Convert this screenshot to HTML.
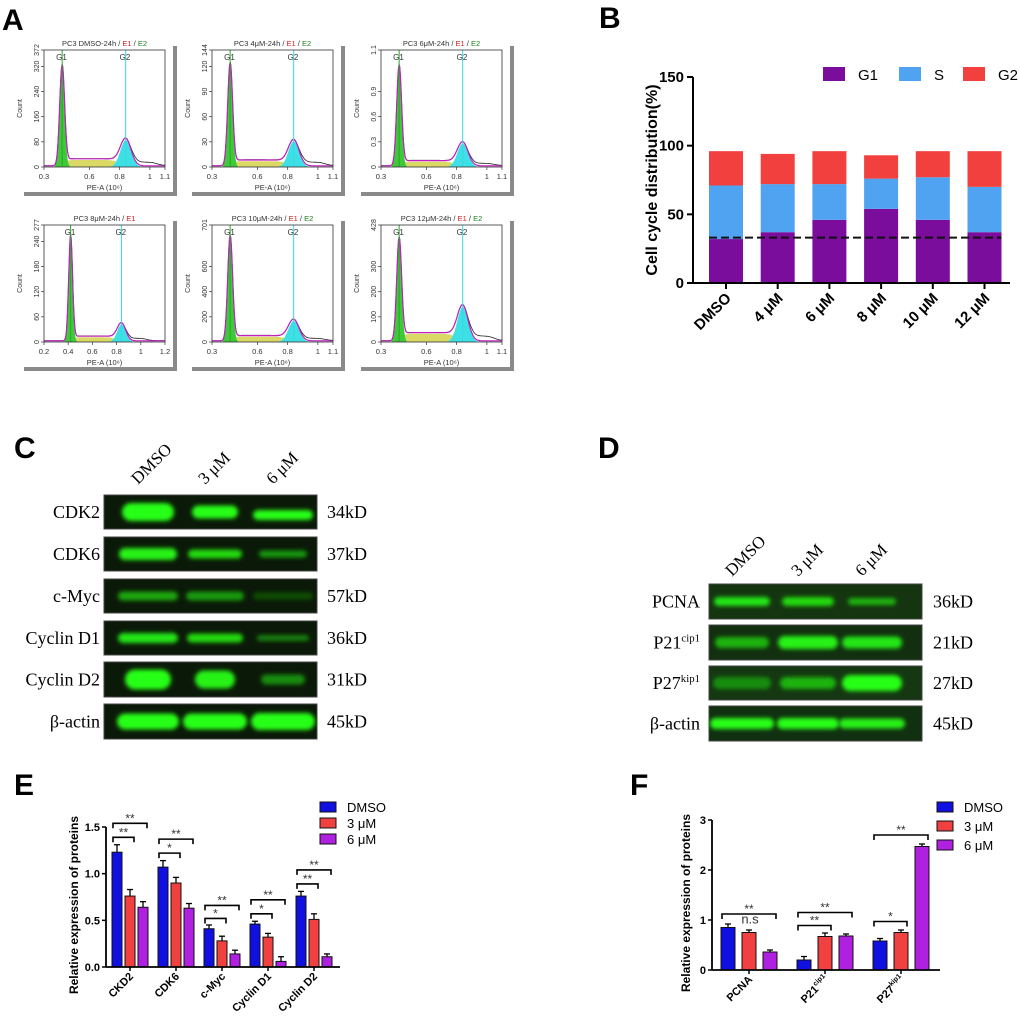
<!DOCTYPE html>
<html><head><meta charset="utf-8">
<style>
html,body{margin:0;padding:0;background:#fff;}
svg{display:block;font-family:"Liberation Sans",sans-serif;}
.serif{font-family:"Liberation Serif",serif;}
</style></head>
<body>
<svg id="fig" width="1020" height="1017" viewBox="0 0 1020 1017" xmlns="http://www.w3.org/2000/svg">
<defs>
<filter id="blur" x="-20%" y="-50%" width="140%" height="200%"><feGaussianBlur stdDeviation="2.2"/></filter>
</defs>
<text x="2" y="30" font-size="30" font-weight="bold">A</text>
<text x="599" y="28" font-size="30" font-weight="bold">B</text>
<text x="14" y="458" font-size="30" font-weight="bold">C</text>
<text x="598" y="458" font-size="30" font-weight="bold">D</text>
<text x="14" y="795" font-size="30" font-weight="bold">E</text>
<text x="630" y="795" font-size="30" font-weight="bold">F</text>
<g id="gA"></g>
<g id="gB"></g>
<g id="gC"></g>
<g id="gD"></g>
<g id="gE"></g>
<g id="gF"></g>
</svg>
<script>
const NS="http://www.w3.org/2000/svg";
function mk(p,tag,a,txt){const e=document.createElementNS(NS,tag);for(const k in a)e.setAttribute(k,a[k]);if(txt!==undefined)e.textContent=txt;p.appendChild(e);return e;}

// ---------- Panel A data ----------
const histTitles=["PC3 DMSO-24h","PC3 4\u03bcM-24h","PC3 6\u03bcM-24h","PC3 8\u03bcM-24h","PC3 10\u03bcM-24h","PC3 12\u03bcM-24h"];
const histYMax=["372","144","1.1","277","701","428"];
const histYTicks=[["0","80","160","240","320"],["0","30","60","90","120"],["0","0.3","0.6","0.9"],["0","60","120","180","240"],["0","200","400","600"],["0","100","200","300"]];
const histG1=[0.86,0.88,0.86,0.9,0.9,0.88];
const histG2=[0.23,0.22,0.2,0.15,0.18,0.3];
const histS=[0.06,0.05,0.045,0.04,0.045,0.07];
const histTail=[0.03,0.03,0.02,0.02,0.02,0.04];
const histXTicks=[["0.3","0.6","0.8","1","1.1"],["0.3","0.6","0.8","1","1.1"],["0.3","0.6","0.8","1","1.1"],["0.2","0.4","0.6","0.8","1","1.2"],["0.3","0.6","0.8","1","1.1"],["0.3","0.6","0.8","1","1.1"]];
(function(){
 const g=document.getElementById('gA');
 const lefts=[44,212,381], tops=[50,225], W=121, H=117;
 for(let i=0;i<6;i++){
  const L=lefts[i%3], T=tops[Math.floor(i/3)], B=T+H, R=L+W;
  const pg=mk(g,'g',{});
  
  
  mk(pg,'rect',{x:R+8,y:T-4,width:4,height:B-T+31,fill:'#8a8a8a'});
  mk(pg,'rect',{x:L-20,y:B+25,width:W+32,height:4,fill:'#8a8a8a'});
  const lo=(i===3)?0.2:0.3, hi=(i===3)?1.2:1.1;
  const sx=v=>L+(v-lo)/(hi-lo)*W;
  const sy=f=>B-f*H;
  const g1=histG1[i],g2=histG2[i],s=histS[i],tl=histTail[i];
  const G1=x=>g1*Math.exp(-Math.pow((x-0.42)/0.016,2)/2);
  const G2=x=>g2*Math.exp(-Math.pow((x-0.84)/0.035,2)/2);
  const S=x=>s*(1/(1+Math.exp(-(x-0.44)/0.01)))*(1/(1+Math.exp((x-0.8)/0.02)));
  const Tl=x=>tl*(1/(1+Math.exp(-(x-0.88)/0.01)))*(1/(1+Math.exp((x-1.05)/0.02)));
  let pG1='',pS='',pG2='',pT='',pB='';
  for(let x=lo;x<=hi+1e-9;x+=0.004){
   const X=sx(x).toFixed(1);
   pG1+=(pG1?'L':'M')+X+','+sy(G1(x)).toFixed(1);
   pS+=(pS?'L':'M')+X+','+sy(S(x)).toFixed(1);
   pG2+=(pG2?'L':'M')+X+','+sy(G2(x)).toFixed(1);
   pT+=(pT?'L':'M')+X+','+sy(G1(x)+G2(x)+S(x)+0.01).toFixed(1);
   pB+=(pB?'L':'M')+X+','+sy(G1(x)+G2(x)+S(x)+Tl(x)+0.012).toFixed(1);
  }
  const close='L'+sx(hi)+','+B+'L'+sx(lo)+','+B+'Z';
  mk(pg,'path',{d:pS+close,fill:'#d4d24a',opacity:0.85});
  mk(pg,'path',{d:pG2+close,fill:'#3de0e4'});
  mk(pg,'path',{d:pG1+close,fill:'#3ec83a'});
  mk(pg,'path',{d:pB,fill:'none',stroke:'#222','stroke-width':0.8});
  mk(pg,'path',{d:pT,fill:'none',stroke:'#c020c0','stroke-width':1.2});
  mk(pg,'line',{x1:sx(0.42),y1:T,x2:sx(0.42),y2:B,stroke:'#2aa82a','stroke-width':1});
  mk(pg,'line',{x1:sx(0.84),y1:T,x2:sx(0.84),y2:B,stroke:'#38d8e0','stroke-width':1});
  mk(pg,'text',{x:sx(0.42)-6,y:T+10,'font-size':8,fill:'#333'},'G1');
  mk(pg,'text',{x:sx(0.84)-6,y:T+10,'font-size':8,fill:'#333'},'G2');
  mk(pg,'rect',{x:L,y:T,width:W,height:H,fill:'none',stroke:'#333','stroke-width':0.8});
  const t=mk(pg,'text',{x:L+W/2,y:T-4,'font-size':7.5,'text-anchor':'middle',fill:'#333'});
  mk(t,'tspan',{},histTitles[i]+' / ');mk(t,'tspan',{fill:'#d02020'},'E1');
  if(i!==3){mk(t,'tspan',{},' / ');mk(t,'tspan',{fill:'#208020'},'E2');}
  const yt=histYTicks[i];
  const yl=[...yt,histYMax[i]];
  yl.forEach((lab,k)=>{
   const y=(k===yl.length-1)?T:B-k*(H*0.215);
   mk(pg,'line',{x1:L-3,y1:y,x2:L,y2:y,stroke:'#333','stroke-width':0.7});
   mk(pg,'text',{x:L-5,y:y,'font-size':7,'text-anchor':'middle',transform:`rotate(-90 ${L-5} ${y})`,fill:'#333'},lab);
  });
  mk(pg,'text',{x:L-22,y:(T+B)/2,'font-size':7,'text-anchor':'middle',transform:`rotate(-90 ${L-22} ${(T+B)/2})`,fill:'#333'},'Count');
  histXTicks[i].forEach(lab=>{
   const v=parseFloat(lab);const x=sx(v);
   mk(pg,'line',{x1:x,y1:B,x2:x,y2:B+3,stroke:'#333','stroke-width':0.7});
   mk(pg,'text',{x:x,y:B+12,'font-size':7.5,'text-anchor':'middle',fill:'#333'},lab);
  });
  mk(pg,'text',{x:L+W/2,y:B+23,'font-size':7.5,'text-anchor':'middle',fill:'#333'},'PE-A (10\u2076)');
 }
})();

// ---------- Panel B data ----------
const bCats=["DMSO","4 \u03bcM","6 \u03bcM","8 \u03bcM","10 \u03bcM","12 \u03bcM"];
const bG1=[32,37,46,54,46,37];
const bS=[39,35,26,22,31,33];
const bG2=[25,22,24,17,19,26];
const bTicks=[0,50,100,150];
const bRef=33;
(function(){
 const g=document.getElementById('gB');
 const x0=693,y0=283,yTop=77,xEnd=1010;
 const sy=v=>y0-v/150*(y0-yTop);
 const sx=i=>726+i*51.7;
 const bw=34;
 bCats.forEach((c,i)=>{
  let base=0;
  [[bG1,'#7a0d9b','g1'],[bS,'#4fa3f0','s'],[bG2,'#f2403f','g2']].forEach(([arr,col,nm])=>{
   const r=mk(g,'rect',{x:sx(i)-bw/2,y:sy(base+arr[i]),width:bw,height:sy(base)-sy(base+arr[i]),fill:col});
   
   
   base+=arr[i];
  });
  mk(g,'line',{x1:sx(i),y1:y0,x2:sx(i),y2:y0+6,stroke:'#000','stroke-width':2});
  const lx=sx(i)+6,ly=y0+16;
  mk(g,'text',{x:lx,y:ly,'font-size':15,'font-weight':'bold','text-anchor':'end',transform:`rotate(-45 ${lx} ${ly})`},c);
 });
 mk(g,'line',{x1:sx(0)-bw/2,y1:sy(bRef),x2:sx(5)+bw/2,y2:sy(bRef),stroke:'#111','stroke-width':2,'stroke-dasharray':'8,4'});
 mk(g,'line',{x1:x0,y1:yTop,x2:x0,y2:y0+1,stroke:'#000','stroke-width':2});
 mk(g,'line',{x1:x0-1,y1:y0,x2:xEnd,y2:y0,stroke:'#000','stroke-width':2});
 bTicks.forEach(t=>{
  mk(g,'line',{x1:x0-6,y1:sy(t),x2:x0,y2:sy(t),stroke:'#000','stroke-width':2});
  mk(g,'text',{x:x0-9,y:sy(t)+5,'font-size':15,'font-weight':'bold','text-anchor':'end'},t);
 });
 mk(g,'text',{x:657,y:180,'font-size':16,'font-weight':'bold','text-anchor':'middle',transform:'rotate(-90 657 180)'},'Cell cycle distribution(%)');
 [['G1','#7a0d9b',823],['S','#4fa3f0',899],['G2','#f2403f',963]].forEach(([n,c,x])=>{
  mk(g,'rect',{x:x,y:67,width:22,height:14,fill:c});
  mk(g,'text',{x:x+35,y:80,'font-size':15},n);
 });
})();

// ---------- Blots ----------
function blot(gid,x0,x1,rows,lanes,labelX,kdX,fs){
 const g=document.getElementById(gid);
 rows.forEach(r=>{
  const row=mk(g,'g',{});
  
  
  mk(row,'rect',{x:x0,y:r.y,width:x1-x0,height:r.h,fill:r.bg||'#0b1a08',stroke:'#444','stroke-width':1});
  lanes.forEach((lx,k)=>{
   const it=r.int[k];
   mk(row,'rect',{x:lx-r.w[k]/2,y:r.y+r.h/2-r.bh[k]/2+(r.dy?r.dy[k]:0),width:r.w[k],height:r.bh[k],rx:r.bh[k]/2,fill:`rgb(${Math.round(40*it)},${Math.round(255*it)},${Math.round(20*it)})`,filter:'url(#blur)'});
  });
  const t=mk(row,'text',{x:labelX,y:r.y+r.h/2+6,'font-size':fs,'text-anchor':'end',class:'serif'});
  if(r.sup){mk(t,'tspan',{},r.name);mk(t,'tspan',{'font-size':fs*0.6,dy:-7},r.sup);}else t.textContent=r.name;
  mk(row,'text',{x:kdX,y:r.y+r.h/2+6,'font-size':fs,class:'serif'},r.kd);
 });
}
const cLaneLabels=["DMSO","3 \u03bcM","6 \u03bcM"];
blot('gC',104,317,[
 {name:'CDK2',kd:'34kD',y:495,h:34,int:[1,1,1],w:[52,46,60],bh:[18,13,10],dy:[0,0,3]},
 {name:'CDK6',kd:'37kD',y:537,h:34,int:[0.95,0.85,0.6],w:[58,54,48],bh:[12,9,7]},
 {name:'c-Myc',kd:'57kD',y:579,h:34,int:[0.65,0.6,0.3],w:[60,58,60],bh:[9,9,7]},
 {name:'Cyclin D1',kd:'36kD',y:621,h:34,int:[0.9,0.85,0.5],w:[60,56,52],bh:[10,9,6]},
 {name:'Cyclin D2',kd:'31kD',y:662,h:35,int:[1,0.95,0.55],w:[46,40,44],bh:[20,18,10]},
 {name:'\u03b2-actin',kd:'45kD',y:704,h:35,int:[1,1,1],w:[62,64,64],bh:[16,16,17]}
],[148,215,283],100,327,18);
blot('gD',709,922,[
 {name:'PCNA',kd:'36kD',y:584,h:35,bg:'#143510',int:[0.9,0.85,0.7],w:[56,52,48],bh:[9,9,7]},
 {name:'P21',sup:'cip1',kd:'21kD',y:625,h:35,bg:'#123010',int:[0.7,0.95,0.9],w:[54,60,60],bh:[11,13,12]},
 {name:'P27',sup:'kip1',kd:'27kD',y:666,h:34,bg:'#153812',int:[0.55,0.7,1],w:[58,56,60],bh:[12,12,16]},
 {name:'\u03b2-actin',kd:'45kD',y:706,h:35,bg:'#113010',int:[1,1,0.95],w:[64,62,66],bh:[11,11,10]}
],[742,808,872],700,933,18);
(function(){
 [['gC',[148,215,283],485],['gD',[742,808,872],577]].forEach(([id,xs,yb])=>{
  const g=document.getElementById(id);
  xs.forEach((x,k)=>{
   const lx=x-10,ly=yb;
   mk(g,'text',{x:lx,y:ly,'font-size':17,class:'serif',transform:`rotate(-45 ${lx} ${ly})`},cLaneLabels[k]);
  });
 });
})();

// ---------- Panel E data ----------
const eCats=["CKD2","CDK6","c-Myc","Cyclin D1","Cyclin D2"];
const eDMSO=[1.23,1.07,0.41,0.46,0.76];
const e3=[0.76,0.90,0.28,0.32,0.51];
const e6=[0.64,0.63,0.14,0.06,0.11];
const eErrD=[0.08,0.07,0.04,0.03,0.05];
const eErr3=[0.07,0.06,0.05,0.04,0.06];
const eErr6=[0.06,0.05,0.04,0.05,0.03];
const eTicks=["0.0","0.5","1.0","1.5"];
const eSigNear=[1.39,1.22,0.52,0.57,0.89];
const eSigNearLab=["**","*","*","*","**"];
const eSigFar=[1.54,1.37,0.66,0.72,1.04];
const eSigFarLab=["**","**","**","**","**"];

// ---------- Panel F data ----------
const fCats=["PCNA","P21","P27"];
const fSup=["","cip1","kip1"];
const fDMSO=[0.85,0.2,0.58];
const f3=[0.75,0.67,0.75];
const f6=[0.36,0.68,2.47];
const fErrD=[0.07,0.07,0.05];
const fErr3=[0.05,0.07,0.05];
const fErr6=[0.04,0.04,0.05];
const fTicks=["0","1","2","3"];
const fSigNear=[null,0.89,0.97];
const fSigNearLab=["","**","*"];
const fSigFar=[1.12,1.15,2.7];
const fSigFarLab=["**","**","**"];

function barChart(o){
 const g=document.getElementById(o.id);
 const sy=v=>o.y0-v/o.ymax*(o.y0-o.yTop);
 const series=[[o.d,o.eD,'#1010e0','dmso'],[o.t,o.e3,'#f04040','3um'],[o.s,o.e6,'#b020e0','6um']];
 o.cats.forEach((c,i)=>{
  const cx=o.cx0+i*o.step;
  series.forEach(([arr,err,col,nm],k)=>{
   const x=cx+(k-1)*o.off-o.bw/2;
   const top=sy(arr[i]+err[i]);
   mk(g,'line',{x1:x+o.bw/2,y1:sy(arr[i]),x2:x+o.bw/2,y2:top,stroke:'#000','stroke-width':1.3});
   mk(g,'line',{x1:x+o.bw/2-3,y1:top,x2:x+o.bw/2+3,y2:top,stroke:'#000','stroke-width':1.3});
   const r=mk(g,'rect',{x:x,y:sy(arr[i]),width:o.bw,height:o.y0-sy(arr[i]),fill:col,stroke:'#111','stroke-width':1});
   
   
  });
  const bx=k=>cx+(k-1)*o.off;
  const br=(v,k2,lab)=>{
   const y=sy(v);
   mk(g,'path',{d:`M${bx(0)-o.bw/2+1},${y+5}V${y}H${bx(k2)+o.bw/2-1}V${y+5}`,fill:'none',stroke:'#000','stroke-width':1.6});
   mk(g,'text',{x:(bx(0)+bx(k2))/2,y:y-1,'font-size':12,'text-anchor':'middle',fill:'#333'},lab);
  };
  if(o.near[i]!==null)br(o.near[i],1,o.nearLab[i]);
  br(o.far[i],2,o.farLab[i]);
  mk(g,'line',{x1:cx,y1:o.y0,x2:cx,y2:o.y0+4,stroke:'#000','stroke-width':1.5});
  const lx=cx+4,ly=o.y0+10;
  const t=mk(g,'text',{x:lx,y:ly,'font-size':11,'font-weight':'bold','text-anchor':'end',transform:`rotate(-45 ${lx} ${ly})`});
  if(o.sup&&o.sup[i]){mk(t,'tspan',{},c);mk(t,'tspan',{'font-size':7,dy:-5},o.sup[i]);}else t.textContent=c;
 });
 mk(g,'line',{x1:o.x0,y1:o.yTop,x2:o.x0,y2:o.y0,stroke:'#000','stroke-width':1.8});
 mk(g,'line',{x1:o.x0,y1:o.y0,x2:o.xEnd,y2:o.y0,stroke:'#000','stroke-width':1.8});
 o.ticks.forEach(t=>{
  const y=sy(parseFloat(t));
  mk(g,'line',{x1:o.x0-4,y1:y,x2:o.x0,y2:y,stroke:'#000','stroke-width':1.5});
  mk(g,'text',{x:o.x0-6,y:y+4,'font-size':11,'font-weight':'bold','text-anchor':'end'},t);
 });
 const tcy=(o.y0+o.yTop)/2+8;
 mk(g,'text',{x:o.titleX,y:tcy,'font-size':12,'font-weight':'bold','text-anchor':'middle',transform:`rotate(-90 ${o.titleX} ${tcy})`},'Relative expression of proteins');
 [['DMSO','#1010e0'],['3 \u03bcM','#f04040'],['6 \u03bcM','#b020e0']].forEach(([n,c],k)=>{
  const y=o.legY+k*o.legStep;
  mk(g,'rect',{x:o.legX,y:y-5,width:16,height:10,fill:c,stroke:'#111','stroke-width':1});
  mk(g,'text',{x:o.legX+27,y:y+5,'font-size':13},n);
 });
 if(o.extra)o.extra(g,sy);
}
barChart({id:'gE',cats:eCats,d:eDMSO,t:e3,s:e6,eD:eErrD,e3:eErr3,e6:eErr6,ticks:eTicks,ymax:1.5,
 y0:967,yTop:827,x0:106,xEnd:340,cx0:130,step:46,off:13,bw:10,near:eSigNear,nearLab:eSigNearLab,far:eSigFar,farLab:eSigFarLab,
 titleX:78,legX:320,legY:807,legStep:16});
barChart({id:'gF',cats:fCats,sup:fSup,d:fDMSO,t:f3,s:f6,eD:fErrD,e3:fErr3,e6:fErr6,ticks:fTicks,ymax:3,
 y0:970,yTop:820,x0:712,xEnd:940,cx0:749,step:76,off:21,bw:14,near:fSigNear,nearLab:fSigNearLab,far:fSigFar,farLab:fSigFarLab,
 titleX:690,legX:937,legY:807,legStep:19,
 extra:(g,sy)=>{mk(g,'text',{x:750,y:sy(0.93),'font-size':13,'text-anchor':'middle',fill:'#333'},'n.s');}});
</script>
</body></html>
